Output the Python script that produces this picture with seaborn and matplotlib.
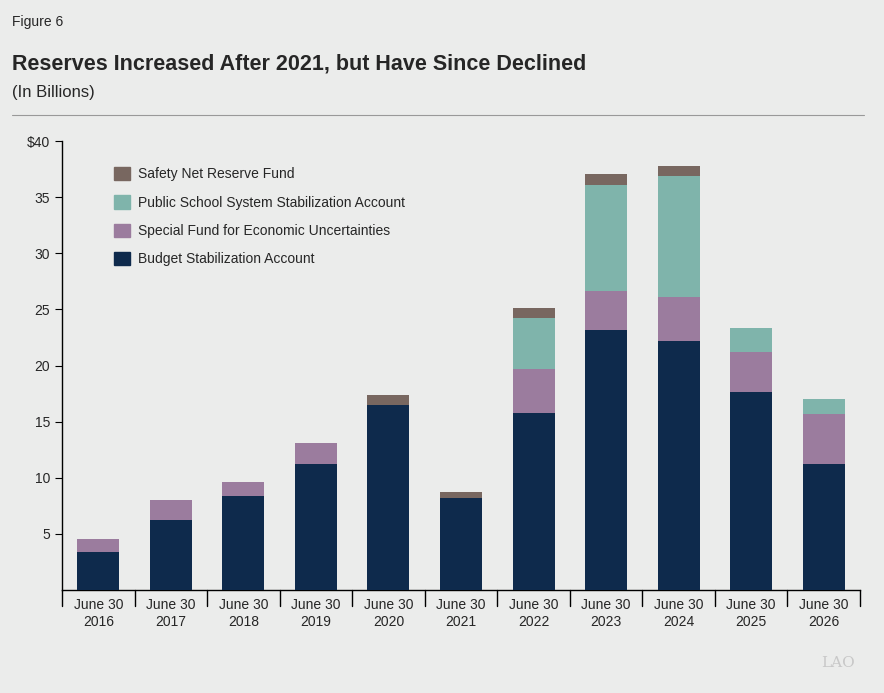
import numpy as np
import pandas as pd
import seaborn as sns
from matplotlib import pyplot as plt

years = ['2016', '2017', '2018', '2019', '2020', '2021', '2022', '2023', '2024', '2025', '2026']
bsa = [3.4, 6.2, 8.4, 11.2, 16.5, 8.2, 15.8, 23.2, 22.2, 17.6, 11.2]
sfeu = [1.15, 1.8, 1.2, 1.9, 0.0, 0.0, 3.9, 3.4, 3.9, 3.6, 4.5]
psssa = [0.0, 0.0, 0.0, 0.0, 0.0, 0.0, 4.5, 9.5, 10.8, 2.1, 1.3]
snrf = [0.0, 0.0, 0.0, 0.0, 0.9, 0.55, 0.95, 0.95, 0.9, 0.0, 0.0]

series = [
    ('Budget Stabilization Account', bsa, '#0e2a4c'),
    ('Special Fund for Economic Uncertainties', sfeu, '#9b7c9e'),
    ('Public School System Stabilization Account', psssa, '#7fb4ab'),
    ('Safety Net Reserve Fund', snrf, '#786760'),
]

sns.set_style('white')
plt.rcParams['font.family'] = ['Liberation Sans', 'DejaVu Sans']
bg = '#ebeceb'
fig = plt.figure(figsize=(8.84, 6.93), dpi=100, facecolor=bg)
ax = fig.add_axes([62 / 884, 103 / 693, 798 / 884, 449 / 693], facecolor=bg)

labels = ['June 30\n' + y for y in years]
bottom = np.zeros(len(years))
handles = []
for name, vals, col in series:
    df = pd.DataFrame({'x': labels, 'y': np.array(vals) + bottom})
    sns.barplot(data=df, x='x', y='y', color=col, width=0.58, ax=ax, saturation=1, linewidth=0)
    bottom += np.array(vals)
    handles.append(plt.Rectangle((0, 0), 1, 1, color=col, label=name))
# cumulative bars: earlier (shorter) stacks must sit on top
for i, c in enumerate(ax.containers):
    for p in c:
        p.set_zorder(10 - i)

ax.set_ylim(0, 40)
ax.set_xlim(-0.5, len(years) - 0.5)
ax.set_yticks([5, 10, 15, 20, 25, 30, 35, 40])
ax.set_yticklabels(['5', '10', '15', '20', '25', '30', '35', '$40'])
ax.set_xlabel('')
ax.set_ylabel('')
for s in ['top', 'right']:
    ax.spines[s].set_visible(False)
for s in ['left', 'bottom']:
    ax.spines[s].set_color('black')
    ax.spines[s].set_linewidth(1)
ax.tick_params(axis='y', length=5, color='black', labelsize=10, direction='out', left=True)
ax.tick_params(axis='x', length=0, labelsize=10, pad=6)
for b in np.arange(-0.5, len(years), 1.0):
    ax.plot([b, b], [0, -0.035], transform=ax.get_xaxis_transform(), color='black', lw=1, clip_on=False)

leg = ax.legend(handles=handles[::-1], loc='upper left', bbox_to_anchor=(0.05, 0.97), frameon=False,
                fontsize=10, handlelength=1.1, handleheight=1.1, labelspacing=1.0, handletextpad=0.6)

fig.text(12 / 884, 1 - 22 / 693, 'Figure 6', fontsize=10, va='center')
fig.text(12 / 884, 1 - 64 / 693, 'Reserves Increased After 2021, but Have Since Declined',
         fontsize=15.5, fontweight='bold', va='center')
fig.text(12 / 884, 1 - 92 / 693, '(In Billions)', fontsize=12, va='center')
fig.add_artist(plt.Line2D([12 / 884, 864 / 884], [1 - 115 / 693] * 2, color='#999999', lw=0.8))
fig.text(838 / 884, 1 - 663 / 693, 'LAO', fontsize=11, color='#c8c8c8', ha='center', va='center', family='serif')

fig.savefig('out.png', dpi=100, facecolor=bg)
